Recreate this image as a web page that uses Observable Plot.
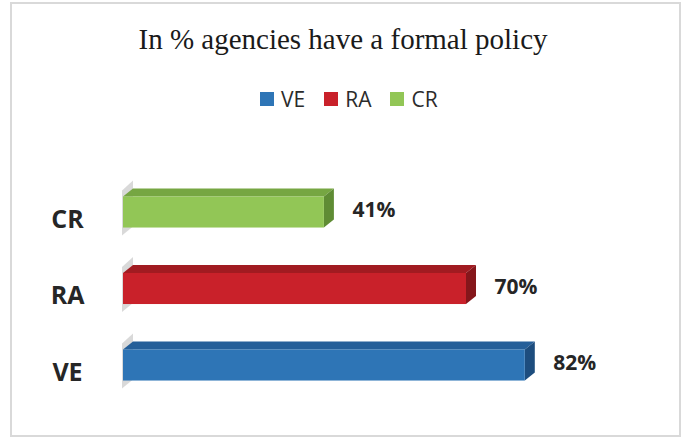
<!DOCTYPE html>
<html>
<head>
<meta charset="utf-8">
<script src="https://cdn.jsdelivr.net/npm/d3@7"></script>
<script src="https://cdn.jsdelivr.net/npm/@observablehq/plot@0.6"></script>
<style>
  html, body { margin: 0; padding: 0; background: #fff; }
  body { width: 686px; height: 444px; position: relative; overflow: hidden; }
  #frame { position: absolute; left: 10px; top: 2px; width: 667px; height: 431px; border: 2px solid #d9d9d9; box-sizing: content-box; }
  #header { position: relative; width: 686px; height: 140px; }
  #title { position: absolute; top: 25px; left: 0; width: 686px; text-align: center;
           font-family: "Liberation Serif", "Times New Roman", serif; font-size: 29px; line-height: 29px; color: #1a1a1a; }
  #legend { position: absolute; top: 89px; left: 260px; height: 20px; display: flex; align-items: center;
            font-family: "Open Sans", sans-serif; font-size: 21px; line-height: 20px; color: #2b2b2b; }
  .item { display: flex; align-items: center; margin-right: 19px; }
  .sw { width: 14px; height: 14px; margin-right: 7px; }
  #chart { position: relative; }
</style>
</head>
<body>
<div id="frame"></div>
<div id="header">
  <div id="title">In % agencies have a formal policy</div>
  <div id="legend"></div>
</div>
<div id="chart"></div>
<script>
// ---- data ----
const categories = ["VE", "RA", "CR"];
const values = [82, 70, 41];
const frontColors = ["#2E75B6", "#C9212A", "#92C656"];
const topColors = ["#255F99", "#A11B21", "#76A642"];
const sideColors = ["#1D4D7E", "#85161B", "#5F8C34"];

// ---- 3D geometry constants (style) ----
const H = 0.203;   // half bar thickness (row units)
const D = 0.105;   // depth, vertical (row units)
const DX = 2.04;   // depth, horizontal (% units)

const rows = categories.map((c, i) => ({cat: c, i, v: values[i]}));

const wall = rows.flatMap(r => [
  {cat: r.cat, x: -0.2, y1: r.i - 0.307, y2: r.i + 0.281},
  {cat: r.cat, x: DX, y1: r.i - 0.19, y2: r.i + 0.412}
]);
const topFace = rows.flatMap(r => [
  {cat: r.cat, y: r.i + H, x1: 0, x2: r.v, fill: topColors[r.i]},
  {cat: r.cat, y: r.i + H + D, x1: DX, x2: r.v + DX, fill: topColors[r.i]}
]);
const sideFace = rows.flatMap(r => [
  {cat: r.cat, x: r.v, y1: r.i - H, y2: r.i + H, fill: sideColors[r.i]},
  {cat: r.cat, x: r.v + DX, y1: r.i - H + D, y2: r.i + H + D, fill: sideColors[r.i]}
]);

// ---- legend ----
const legend = document.getElementById("legend");
categories.forEach((c, i) => {
  const it = document.createElement("div");
  it.className = "item";
  const sw = document.createElement("div");
  sw.className = "sw";
  sw.style.background = frontColors[i];
  const t = document.createElement("span");
  t.textContent = c;
  it.appendChild(sw); it.appendChild(t);
  legend.appendChild(it);
});

// ---- chart ----
const plot = Plot.plot({
  width: 686,
  height: 304,
  marginLeft: 123,
  marginRight: 73,
  marginTop: 33.75,
  marginBottom: 40.75,
  style: {fontFamily: "'Open Sans', sans-serif", background: "transparent"},
  x: {domain: [0, 100], axis: null},
  y: {domain: [-0.5, 2.5], axis: null},
  color: {type: "identity"},
  marks: [
    Plot.areaY(wall, {x: "x", y1: "y1", y2: "y2", z: "cat", fill: "#c4c4c4", fillOpacity: 0.65, curve: "linear"}),
    Plot.areaX(topFace, {y: "y", x1: "x1", x2: "x2", z: "cat", fill: "fill", curve: "linear"}),
    Plot.areaY(sideFace, {x: "x", y1: "y1", y2: "y2", z: "cat", fill: "fill", curve: "linear"}),
    Plot.rect(rows, {x1: 0, x2: "v", y1: d => d.i - H, y2: d => d.i + H, fill: d => frontColors[d.i]}),
    Plot.text(rows, {x: "v", y: "i", text: d => d.v + "%", textAnchor: "start", dx: 28, dy: -2,
                     fontSize: 21, fontWeight: "bold", fill: "#262626"}),
    Plot.text(rows, {x: 0, y: "i", text: "cat", textAnchor: "middle", dx: -56, dy: 7,
                     fontSize: 25, fontWeight: "bold", fill: "#262626"})
  ]
});
document.getElementById("chart").appendChild(plot);
</script>
</body>
</html>
